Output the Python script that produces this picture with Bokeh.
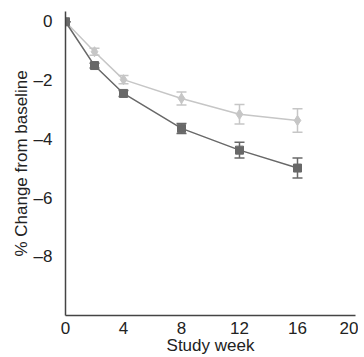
from bokeh.plotting import figure
from bokeh.models import ColumnDataSource, Range1d, FixedTicker, Whisker
from bokeh.embed import file_html
from bokeh.resources import INLINE

weeks = [0, 2, 4, 8, 12, 16]
dark_mean = [0, -1.49, -2.44, -3.63, -4.37, -4.98]
dark_err = [0, 0.08, 0.10, 0.17, 0.27, 0.34]
light_mean = [0, -1.02, -1.97, -2.61, -3.15, -3.36]
light_err = [0, 0.12, 0.14, 0.22, 0.33, 0.40]

x_ticks = [0, 4, 8, 12, 16, 20]
y_ticks = [0, -2, -4, -6, -8]

DARK = "#686868"
LIGHT = "#c6c6c6"
FONT = "Liberation Sans"

p = figure(width=358, height=357, output_backend="svg", toolbar_location=None,
           x_range=Range1d(0, 20), y_range=Range1d(-10, 0.35),
           min_border_left=65, min_border_right=3, min_border_top=11, min_border_bottom=42)
p.grid.visible = False
p.outline_line_color = None

for ax in (p.xaxis[0], p.yaxis[0]):
    ax.major_tick_line_color = None
    ax.minor_tick_line_color = None
    ax.axis_line_color = "#444444"
    ax.axis_line_width = 1.5
    ax.major_label_text_font = FONT
    ax.major_label_text_font_size = "17px"
    ax.major_label_text_color = "#222222"
    ax.axis_label_text_font = FONT
    ax.axis_label_text_font_size = "17px"
    ax.axis_label_text_font_style = "normal"
    ax.axis_label_text_color = "#222222"

p.xaxis.ticker = FixedTicker(ticks=x_ticks)
p.yaxis.ticker = FixedTicker(ticks=y_ticks)
p.yaxis.major_label_overrides = {t: ("\u2013" + str(-t) if t < 0 else str(t)) for t in y_ticks}
p.xaxis.axis_label = "Study week"
p.yaxis.axis_label = "% Change from baseline"
p.xaxis.major_label_standoff = 0
p.yaxis.major_label_standoff = 7
p.xaxis.axis_label_standoff = -1
p.yaxis.axis_label_standoff = 0

def series(mean, err, color, marker, size):
    src = ColumnDataSource(dict(x=weeks, y=mean,
                                lo=[m - e for m, e in zip(mean, err)],
                                hi=[m + e for m, e in zip(mean, err)]))
    w = Whisker(source=src, base="x", lower="lo", upper="hi", line_color=color, line_width=1.5)
    w.upper_head.size = 10
    w.lower_head.size = 10
    w.upper_head.line_color = color
    w.lower_head.line_color = color
    w.upper_head.line_width = 1.5
    w.lower_head.line_width = 1.5
    p.add_layout(w)
    p.line("x", "y", source=src, line_color=color, line_width=1.5)
    p.scatter("x", "y", source=src, marker=marker, size=size, fill_color=color, line_color=color)

series(light_mean, light_err, LIGHT, "diamond", 10)
series(dark_mean, dark_err, DARK, "square", 8)

open("out.html", "w").write(file_html(p, INLINE))
